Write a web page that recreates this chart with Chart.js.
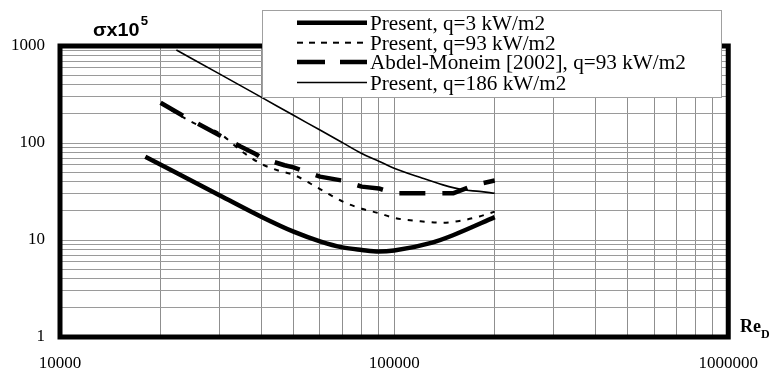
<!DOCTYPE html>
<html><head><meta charset="utf-8">
<script src="https://cdn.jsdelivr.net/npm/chart.js@4"></script>
<style>html,body{margin:0;padding:0;background:#fff}#wrap{width:774px;height:374px;position:relative}</style>
</head><body><div id="wrap"><canvas id="c" width="774" height="374"></canvas></div>
<script>
// ---- data ----
const xTickLabels = [10000, 100000, 1000000];
const yTickLabels = [1, 10, 100, 1000];
const seriesNames = ["Present, q=3 kW/m2", "Present, q=93 kW/m2", "Abdel-Moneim [2002], q=93 kW/m2", "Present, q=186 kW/m2"];
const yTitle = "σx10";
const yTitleSup = "5";
const xTitle = "Re";
const xTitleSub = "D";

const re1 = [18000, 30000, 40000, 50000, 60000, 70000, 80000, 90000, 100000, 130000, 150000, 200000];
const sig1 = [72, 29, 17.4, 12.2, 9.7, 8.4, 7.9, 7.6, 7.8, 9.4, 11.2, 17.2];

const re2 = [20000, 25000, 30000, 35000, 40000, 45000, 50000, 60000, 70000, 80000, 90000, 100000, 120000, 140000, 160000, 180000, 200000];
const sig2 = [255, 162, 126, 82, 61, 52, 47, 33.5, 25, 21, 18.9, 16.9, 15.6, 15.1, 15.9, 17.5, 19.6];

const re3 = [20000, 23200, 30000, 34700, 38500, 40500, 47000, 50000, 60000, 70000, 80000, 90000, 100000, 150000, 175000, 200000];
const sig3 = [260, 193, 120, 92, 77, 69, 59, 56, 45, 41, 35.5, 34, 30.3, 30.3, 37, 41];

const re4 = [22300, 30000, 40000, 50000, 60000, 70000, 80000, 90000, 100000, 120000, 140000, 160000, 180000, 200000];
const sig4 = [910, 516, 297, 193, 136, 101, 78, 65, 55, 44, 37, 33, 31.7, 30.3];

// ---- helpers ----
function toPts(xs, ys){ return xs.map((x,i)=>({x:x, y:ys[i]})); }
function logGrid(lo, hi){ // lo, hi: decade exponents
  const v=[];
  for(let e=lo;e<hi;e++){ for(let k=1;k<10;k++){ v.push(k*Math.pow(10,e)); } }
  v.push(Math.pow(10,hi));
  return v;
}

const legendDash = [[], [6,6], [28,15], []];

const framePlugin = {
  id:'frame',
  beforeDatasetsDraw(chart){
    const {ctx, chartArea:a} = chart;
    ctx.save();
    ctx.strokeStyle='#000'; ctx.lineWidth=5;
    ctx.strokeRect(a.left, a.top, a.right-a.left, a.bottom-a.top);
    ctx.restore();
  }
};

const decorPlugin = {
  id:'decor',
  afterDraw(chart){
    const ctx = chart.ctx;
    ctx.save();
    // y title
    ctx.fillStyle='#000';
    ctx.textBaseline='alphabetic'; ctx.textAlign='left';
    ctx.font='bold 18px "Liberation Sans", Arial, sans-serif';
    ctx.save(); ctx.translate(93,36); ctx.scale(1.1,1);
    ctx.fillText(yTitle,0,0);
    const w = ctx.measureText(yTitle).width;
    ctx.font='bold 12px "Liberation Sans", Arial, sans-serif';
    ctx.fillText(yTitleSup, w+1, -11);
    ctx.restore();
    // x title
    ctx.font='bold 18px "Liberation Serif", "Times New Roman", serif';
    ctx.fillText(xTitle, 740, 332);
    const w2 = ctx.measureText(xTitle).width;
    ctx.font='bold 12px "Liberation Serif", "Times New Roman", serif';
    ctx.fillText(xTitleSub, 740+w2, 338);
    // legend
    const bx=262.5, by=10.5, bw=459, bh=87;
    ctx.fillStyle='#fff'; ctx.fillRect(bx,by,bw,bh);
    ctx.strokeStyle='#a0a0a0'; ctx.lineWidth=1; ctx.strokeRect(bx,by,bw,bh);
    const ys=[22.7, 42.7, 62, 82.5];
    chart.data.datasets.forEach((ds,i)=>{
      ctx.beginPath();
      ctx.setLineDash(legendDash[i]);
      ctx.lineWidth = ds.borderWidth; ctx.strokeStyle = ds.borderColor; ctx.lineCap='butt';
      ctx.moveTo(297, ys[i]); ctx.lineTo(367, ys[i]); ctx.stroke();
      ctx.setLineDash([]);
      ctx.fillStyle='#000';
      ctx.font='20px "Liberation Serif", "Times New Roman", serif';
      ctx.textBaseline='alphabetic';
      ctx.save(); ctx.translate(370, ys[i]+7); ctx.scale(1.06,1);
      ctx.fillText(ds.label, 0, 0);
      ctx.restore();
    });
    ctx.restore();
  }
};

const common = {fill:false, pointRadius:0, pointHoverRadius:0, borderColor:'#000', borderCapStyle:'butt', borderJoinStyle:'round'};

new Chart(document.getElementById('c'), {
  type:'line',
  data:{ datasets:[
    Object.assign({label:seriesNames[0], data:toPts(re1,sig1), borderWidth:4.5, cubicInterpolationMode:'monotone'}, common),
    Object.assign({label:seriesNames[1], data:toPts(re2,sig2), borderWidth:2, borderDash:[5,7], cubicInterpolationMode:'monotone'}, common),
    Object.assign({label:seriesNames[2], data:toPts(re3,sig3), borderWidth:4.5, borderDash:[26,17], tension:0}, common),
    Object.assign({label:seriesNames[3], data:toPts(re4,sig4), borderWidth:1.6, cubicInterpolationMode:'monotone'}, common)
  ]},
  options:{
    responsive:false, animation:false, devicePixelRatio:1,
    layout:{padding:{top:46, right:41, left:0, bottom:0}},
    plugins:{legend:{display:false}, tooltip:{enabled:false}, title:{display:false}},
    scales:{
      x:{ type:'logarithmic', position:'bottom', min:10000, max:1000000,
        afterFit(s){ s.height = 37; },
        afterBuildTicks(s){ s.ticks = logGrid(4,6).map(v=>({value:v})); },
        grid:{color:'#8f8f8f', lineWidth:1, drawTicks:false},
        border:{display:false},
        ticks:{autoSkip:false, maxRotation:0, padding:16, color:'#000',
          font:{family:'"Liberation Serif", "Times New Roman", serif', size:17},
          callback:(v)=> xTickLabels.includes(v) ? String(v) : ''}
      },
      y:{ type:'logarithmic', position:'left', min:1, max:1000,
        afterFit(s){ s.width = 60; },
        afterBuildTicks(s){ s.ticks = logGrid(0,3).map(v=>({value:v})); },
        grid:{color:'#9a9a9a', lineWidth:1, drawTicks:false},
        border:{display:false},
        ticks:{autoSkip:false, padding:15, color:'#000',
          font:{family:'"Liberation Serif", "Times New Roman", serif', size:17},
          callback:(v)=> yTickLabels.includes(v) ? String(v) : ''}
      }
    }
  },
  plugins:[framePlugin, decorPlugin]
});
</script></body></html>
